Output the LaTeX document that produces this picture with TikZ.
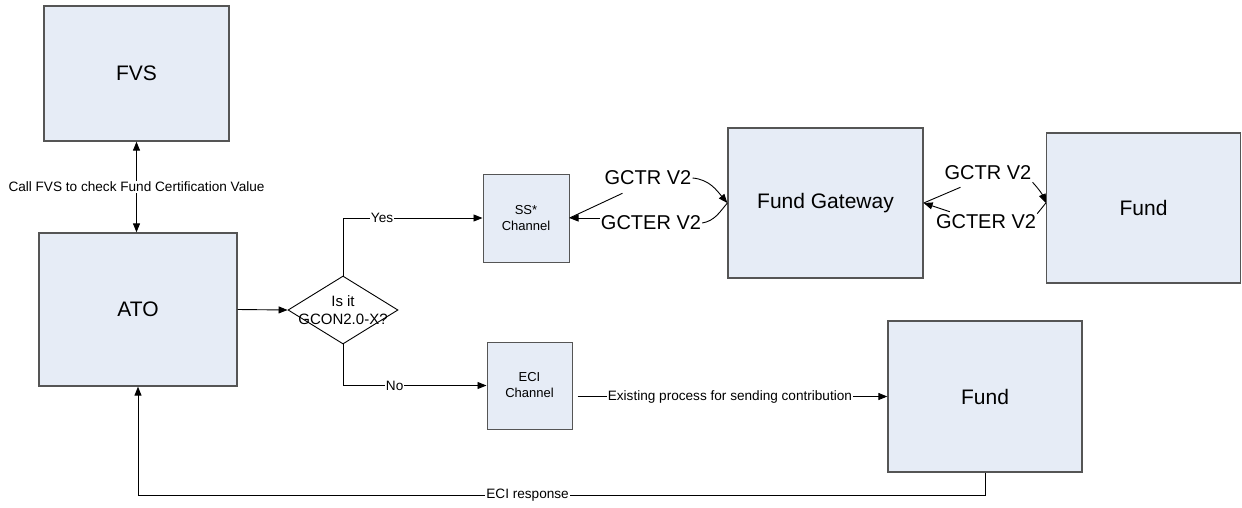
\documentclass[tikz,border=0pt]{standalone}
\usepackage{fontspec}
\setmainfont{Liberation Sans}
\usetikzlibrary{positioning, calc}
\usetikzlibrary{arrows.meta}
\usetikzlibrary{shapes,arrows}
\definecolor{boxfill}{RGB}{230,236,246}
\definecolor{boxline}{RGB}{85,85,85}

\begin{document}
\begin{tikzpicture}[x=1pt,y=-1pt,>={Triangle[length=9pt,width=7pt]},draw=black!100]
	\def \toprow{203}
	\def \midrow{310}
	\def \lowrow{396.5}
	\tikzstyle{b-node}=[draw=boxline,fill=boxfill,line width=1.3pt,text centered,inner sep=0pt,font=\fontsize{21}{25}\selectfont]
	\tikzstyle{c-node}=[b-node,line width=1pt,align=center,font=\fontsize{13}{16}\selectfont]
	\tikzstyle{d-node}=[draw=black,fill=white,diamond,inner sep=0pt,line width=0.9pt,minimum width=110pt,minimum height=68pt]
	\tikzstyle{link}=[line width=0.9pt]
	\tikzstyle{annot}=[fill=white,inner sep=1pt,font=\fontsize{13.6}{16}\selectfont]
	\tikzstyle{msg}=[inner sep=1pt,font=\fontsize{20}{24}\selectfont]
	\useasboundingbox (0,0) rectangle (1242,507);

	% left column
	\node[b-node,minimum width=185pt,minimum height=135pt] (fvs) at (136.5,73.5) {FVS};
	\node[b-node,minimum width=198pt,minimum height=153pt] (ato) at (138,309.5) {ATO};
	\node[d-node,label={[align=center,font=\fontsize{15}{18}\selectfont]center:Is it\\GCON2.0-X?}] (gcon) at (343,\midrow) {};

	% channels
	\node[c-node,minimum width=86pt,minimum height=88pt] (ss) at (526,218) {SS*\\Channel};
	\node[c-node,minimum width=85pt,minimum height=87pt] (eci) at (529.5,385.5) {ECI\\Channel};

	% gateway and funds
	\node[b-node,minimum width=195pt,minimum height=150pt] (gw) at (825.5,\toprow) {Fund Gateway};
	\node[b-node,minimum width=194pt,minimum height=150pt] (fundtop) at (1143.5,208) {Fund};
	\node[b-node,minimum width=194pt,minimum height=151pt] (fundbot) at (985,\lowrow) {Fund};

	% messages
	\node[msg] (gctra) at (648,178) {GCTR V2};
	\node[msg] (gctera) at (651,223) {GCTER V2};
	\node[msg] (gctrb) at (988,173) {GCTR V2};
	\node[msg] (gcterb) at (986,222) {GCTER V2};

	\draw[link,<->] (fvs.south) -- node[annot]{Call FVS to check Fund Certification Value} (fvs.south |- ato.north);
	\draw[link,->] (ato.east) -- (gcon.west);
	\draw[link,->] (gcon.north) |- node[annot,pos=0.64]{Yes} (ss.west);
	\draw[link,->] (gcon.south) |- node[annot,pos=0.68]{No} (eci.west);
	\draw[link,->,shorten <=5pt] (eci.east |- fundbot.west) -- node[annot]{Existing process for sending contribution} (fundbot.west);
	\draw[link,->] (fundbot.south) -- ++(0,23) -| node[annot,pos=0.27]{ECI response} (ato.south);
	%
	\draw[link] (ss.east) -- ($(gctra.south west)+(19,7)$);
	\draw[link,->] (gctra.east) to[out=-5,in=130] (gw.west);
	\draw[link] (gw.west) to[out=-130,in=10] (gctera.east);
	\draw[link,->] ($(gctera.west)+(0,-5)$) -- (ss.east);
	%
	\draw[link] (gw.east) -- ($(gctrb.south west)+(17,6)$);
	\draw[link,->] ($(gctrb.south east)+(0,1)$) to[bend left=10] (fundtop.west |- gw.east);
	\draw[link] (fundtop.west |- gw.east) -- (gcterb.north east);
	\draw[link,->] ($(gcterb.north west)+(15,-2)$) -- (gw.east);
\end{tikzpicture}
\end{document}
